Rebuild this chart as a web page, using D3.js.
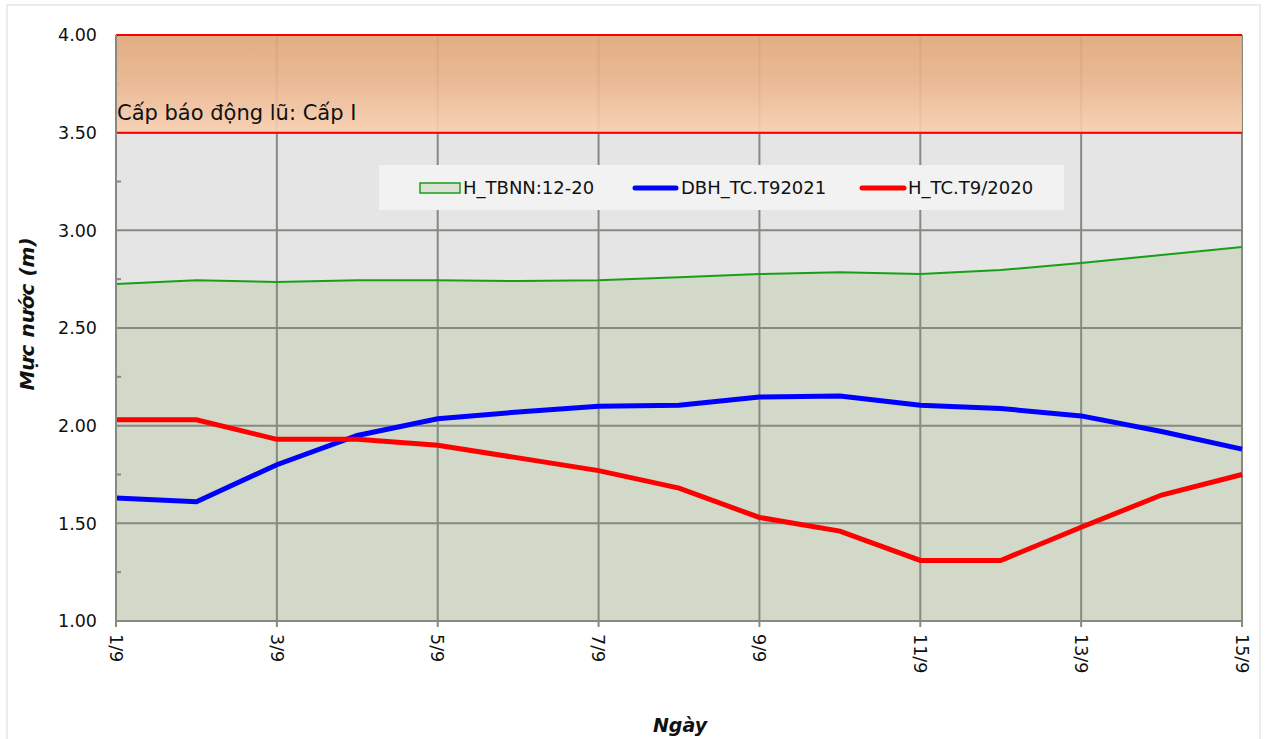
<!DOCTYPE html>
<html>
<head>
<meta charset="utf-8">
<script src="https://cdn.jsdelivr.net/npm/d3@7"></script>
<style>
  body { margin: 0; background: #fff; }
  svg { display: block; }
  text { font-family: "DejaVu Sans", Verdana, sans-serif; fill: #111; }
</style>
</head>
<body>
<script>
// data
const days = [1, 2, 3, 4, 5, 6, 7, 8, 9, 10, 11, 12, 13, 14, 15]
const dayLabels = ["1/9", "3/9", "5/9", "7/9", "9/9", "11/9", "13/9", "15/9"]
const labelDays = [1, 3, 5, 7, 9, 11, 13, 15]
const hTbnn = [2.725, 2.745, 2.735, 2.745, 2.745, 2.74, 2.745, 2.76, 2.776, 2.786, 2.776, 2.797, 2.833, 2.874, 2.915]
const dbh2021 = [1.63, 1.61, 1.80, 1.95, 2.035, 2.07, 2.10, 2.105, 2.147, 2.152, 2.105, 2.088, 2.05, 1.97, 1.88]
const h2020 = [2.03, 2.03, 1.93, 1.93, 1.90, 1.835, 1.77, 1.68, 1.53, 1.46, 1.31, 1.31, 1.48, 1.645, 1.75]
const yTicks = [1.00, 1.50, 2.00, 2.50, 3.00, 3.50, 4.00]
const yMinor = [1.25, 1.75, 2.25, 2.75, 3.25, 3.75]
const alarmLow = 3.5, alarmHigh = 4.0
const alarmText = "Cấp báo động lũ: Cấp I"
const legendNames = ["H_TBNN:12-20", "DBH_TC.T92021", "H_TC.T9/2020"]

const W = 1265, H = 739
const x = d3.scaleLinear().domain([1, 15]).range([116, 1242])
const y = d3.scaleLinear().domain([1, 4]).range([621, 35])
const gridColor = "#878a80"

const svg = d3.select("body").append("svg")
    .attr("width", W)
    .attr("height", H)

// outer frame
svg.append("rect")
    .attr("x", 7).attr("y", 5).attr("width", W - 12).attr("height", H + 5)
    .attr("fill", "#fff").attr("stroke", "#ececec").attr("stroke-width", 2)

const defs = svg.append("defs")
const grad = defs.append("linearGradient").attr("id", "band").attr("x1", 0).attr("y1", 0).attr("x2", 0).attr("y2", 1)
grad.append("stop").attr("offset", "0%").attr("stop-color", "#e1a779")
grad.append("stop").attr("offset", "50%").attr("stop-color", "#ebb68e")
grad.append("stop").attr("offset", "100%").attr("stop-color", "#fad0b0")

// plot background
svg.append("rect")
    .attr("x", x(1)).attr("y", y(4))
    .attr("width", x(15) - x(1)).attr("height", y(1) - y(4))
    .attr("fill", "#e5e5e5")

// H_TBNN area
const area = d3.area().x((d, i) => x(days[i])).y0(y(1)).y1(d => y(d))
svg.append("path").datum(hTbnn)
    .attr("d", area)
    .attr("fill", "#d2d9c8")

// grid
svg.append("g").selectAll("line").data(yTicks).join("line")
    .attr("x1", x(1)).attr("x2", x(15))
    .attr("y1", d => y(d)).attr("y2", d => y(d))
    .attr("stroke", gridColor).attr("stroke-width", 2)
svg.append("g").selectAll("line").data(labelDays).join("line")
    .attr("x1", d => x(d)).attr("x2", d => x(d))
    .attr("y1", y(4)).attr("y2", y(1) + 6)
    .attr("stroke", gridColor).attr("stroke-width", 2)

// minor y ticks
svg.append("g").selectAll("line").data(yMinor).join("line")
    .attr("x1", x(1)).attr("x2", x(1) + 5)
    .attr("y1", d => y(d)).attr("y2", d => y(d))
    .attr("stroke", gridColor).attr("stroke-width", 2)

// alarm band
svg.append("rect")
    .attr("x", x(1)).attr("y", y(alarmHigh))
    .attr("width", x(15) - x(1)).attr("height", y(alarmLow) - y(alarmHigh))
    .attr("fill", "url(#band)").attr("fill-opacity", 0.9)
svg.append("g").selectAll("line").data([alarmLow, alarmHigh]).join("line")
    .attr("x1", x(1)).attr("x2", x(15))
    .attr("y1", d => y(d)).attr("y2", d => y(d))
    .attr("stroke", "#ff0000").attr("stroke-width", 2)
svg.append("text")
    .attr("x", x(1) + 1).attr("y", 120)
    .style("font-size", "21px")
    .text(alarmText)

// series
const line = d3.line().x((d, i) => x(days[i])).y(d => y(d))
svg.append("path").datum(hTbnn)
    .attr("d", line).attr("fill", "none")
    .attr("stroke", "#17a017").attr("stroke-width", 2)
svg.append("path").datum(dbh2021)
    .attr("d", line).attr("fill", "none")
    .attr("stroke", "#0000ff").attr("stroke-width", 5)
svg.append("path").datum(h2020)
    .attr("d", line).attr("fill", "none")
    .attr("stroke", "#ff0000").attr("stroke-width", 5)

// axes lines
svg.append("line").attr("x1", x(1)).attr("x2", x(1)).attr("y1", y(4)).attr("y2", y(1) + 6)
    .attr("stroke", gridColor).attr("stroke-width", 2)
svg.append("line").attr("x1", x(1)).attr("x2", x(15)).attr("y1", y(1)).attr("y2", y(1))
    .attr("stroke", gridColor).attr("stroke-width", 2)

// y tick labels
svg.append("g").selectAll("text").data(yTicks).join("text")
    .attr("x", 97).attr("y", d => y(d))
    .attr("dy", "0.36em")
    .attr("text-anchor", "end")
    .style("font-size", "17.5px")
    .text(d => d.toFixed(2))

// x tick labels (rotated)
svg.append("g").selectAll("text").data(labelDays).join("text")
    .attr("transform", d => `translate(${x(d)},${y(1) + 13}) rotate(90)`)
    .attr("dy", "0.36em")
    .style("font-size", "17.5px")
    .text((d, i) => dayLabels[i])

// axis titles
svg.append("text")
    .attr("transform", `translate(34,314) rotate(-90)`)
    .attr("text-anchor", "middle")
    .style("font-size", "20px").style("font-weight", "bold").style("font-style", "italic")
    .text("Mực nước (m)")
svg.append("text")
    .attr("x", 680).attr("y", 732)
    .attr("text-anchor", "middle")
    .style("font-size", "19px").style("font-weight", "bold").style("font-style", "italic")
    .text("Ngày")

// legend
const lg = svg.append("g")
lg.append("rect").attr("x", 379).attr("y", 165).attr("width", 685).attr("height", 45).attr("fill", "#f2f2f2")
lg.append("rect").attr("x", 420).attr("y", 183).attr("width", 40).attr("height", 10)
    .attr("fill", "#dde2d6").attr("stroke", "#17a017").attr("stroke-width", 1.5)
lg.append("line").attr("x1", 635).attr("x2", 676).attr("y1", 188).attr("y2", 188)
    .attr("stroke", "#0000ff").attr("stroke-width", 5).attr("stroke-linecap", "round")
lg.append("line").attr("x1", 862).attr("x2", 904).attr("y1", 188).attr("y2", 188)
    .attr("stroke", "#ff0000").attr("stroke-width", 5).attr("stroke-linecap", "round")
lg.selectAll("text.lab").data(legendNames).join("text")
    .attr("class", "lab")
    .attr("x", (d, i) => [463, 681, 908][i])
    .attr("y", 188).attr("dy", "0.36em")
    .style("font-size", "18px")
    .text(d => d)
</script>
</body>
</html>
